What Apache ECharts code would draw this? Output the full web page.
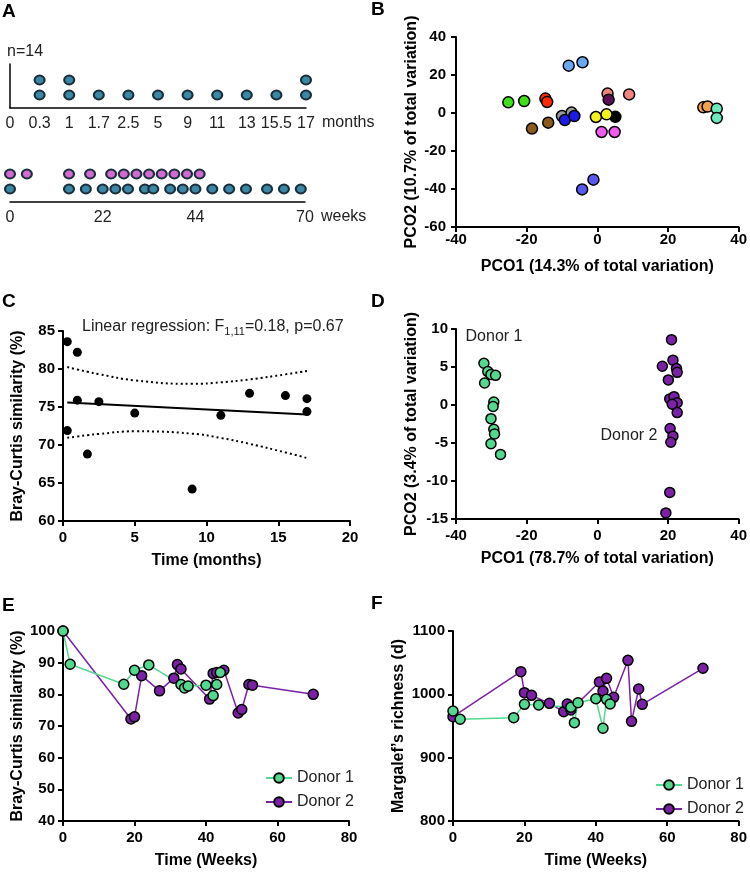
<!DOCTYPE html>
<html>
<head>
<meta charset="utf-8">
<script src="https://cdn.jsdelivr.net/npm/echarts@6/dist/echarts.min.js"></script>
<style>html,body{margin:0;padding:0;background:#fff}#main{width:750px;height:872px}</style>
</head>
<body>
<div id="main"></div>
<script>
// ---- A: sampling timelines ----
var monthLabels = ['0', '0.3', '1', '1.7', '2.5', '5', '9', '11', '13', '15.5', '17'];
var monthSamples = [0, 2, 2, 1, 1, 1, 1, 1, 1, 1, 2];
var weekTicks = [0, 22, 44, 70];
var weeksRow1 = [0, 14, 18, 22, 25, 28, 32, 34, 38, 41, 44, 48, 52, 56, 61, 65, 69];
var weeksRow2 = [0, 4, 14, 19, 24, 27, 30, 33, 36, 39, 42, 45];

// ---- B: PCO of all subjects ----
var bPCO1 = [-25.2, -20.7, -14.7, -14.2, -18.5, -13.9, -8.1, -4.2, -10.0, -7.3, -9.2, -6.5, 2.9, 9.0, 3.2, 5.1, -0.4, 2.6, 1.2, 4.9, 30.0, 31.2, 33.8, 33.8, -4.3, -1.1];
var bPCO2 = [5.6, 6.3, 7.6, 5.8, -8.2, -5.1, 24.9, 26.7, -1.6, 0.2, -3.7, -1.6, 10.2, 9.8, 7.0, -2.0, -2.1, -0.7, -10, -10, 3.0, 3.4, 2.3, -2.6, -40.2, -35.1];
var bSubject = [0, 0, 1, 1, 2, 2, 3, 3, 4, 4, 5, 5, 6, 6, 7, 8, 9, 9, 10, 10, 11, 11, 12, 12, 13, 13];

// ---- C: similarity over time ----
var cMonths = [0.3, 0.3, 1, 1, 1.7, 2.5, 5, 9, 11, 13, 15.5, 17, 17];
var cSim = [83.6, 71.9, 82.2, 75.9, 68.8, 75.7, 74.2, 64.2, 73.9, 76.8, 76.5, 76.1, 74.4];

// ---- D: PCO of donors ----
var d1PCO1 = [-32.1, -31.0, -30.1, -28.8, -31.9, -29.3, -29.5, -30.1, -29.3, -29.1, -30.1, -27.4];
var d1PCO2 = [5.5, 4.4, 4.0, 3.9, 2.9, 0.4, -0.2, -1.8, -3.2, -3.8, -5.1, -6.5];
var d2PCO1 = [21.0, 21.4, 18.4, 22.4, 22.6, 20.1, 20.5, 21.7, 22.6, 21.2, 22.6, 20.6, 21.4, 20.8, 20.5, 19.4];
var d2PCO2 = [8.6, 5.9, 5.1, 4.8, 4.3, 3.3, 0.8, 1.1, 0.3, 0.1, -1.0, -3.1, -4.1, -4.9, -11.5, -14.2];

// ---- E/F: donors over weeks ----
var donor1Weeks = [0, 2, 17, 20, 24, 33, 34, 35, 40, 42, 43, 44];
var donor1BC = [100, 89.5, 83.2, 87.6, 89.3, 83.1, 82.0, 82.6, 82.9, 79.6, 83.1, 86.9];
var donor1Rich = [973.7, 960.6, 963.2, 984.2, 983.2, 979.5, 955.3, 986.8, 993.1, 946.4, 992.1, 984.7];
var donor2Weeks = [0, 19, 20, 22, 27, 31, 32, 33, 41, 42, 43, 45, 49, 50, 52, 53, 70];
var donor2BC = [100, 72.2, 72.9, 85.9, 81.1, 85.1, 89.4, 88.0, 78.5, 86.6, 86.9, 87.6, 74.1, 75.2, 83.1, 82.9, 80.0];
var donor2Rich = [964.7, 1035.8, 1002.6, 998.4, 985.8, 972.6, 984.7, 975.3, 1019.5, 1005.3, 1025.3, 995.3, 1053.7, 957.4, 1008.4, 984.2, 1041.1];

var FONT = 'Liberation Sans, Arial, Helvetica, sans-serif';
var GREEN = '#52d98f', PURPLE = '#7a21a6';
var subjectColors = ['#3ee01a', '#ff2a00', '#8b5a1e', '#6aa8f2', '#9a9a9a', '#1c1ce8', '#f08282', '#5b0f55', '#000000', '#f2f21e', '#f25af2', '#f2a050', '#6aeabc', '#5858ee'];

function zip(a, b) {
	var out = [];
	for (var i = 0; i < a.length; i++) out.push([a[i], b[i]]);
	return out;
}

function axis(grid, min, max, step, name, gap, margin) {
	return {
		type: 'value', gridIndex: grid, min: min, max: max, interval: step,
		name: name, nameLocation: 'middle', nameGap: gap,
		nameTextStyle: {fontFamily: FONT, fontWeight: 'bold', fontSize: 16, color: '#000'},
		axisLine: {show: true, onZero: false, lineStyle: {color: '#000', width: 2}},
		axisTick: {show: true, length: 5, lineStyle: {color: '#000', width: 2}},
		axisLabel: {fontFamily: FONT, fontWeight: 'bold', fontSize: 15, color: '#000', margin: margin,
			formatter: function (v) { return String(v); }},
		splitLine: {show: false}
	};
}

// month dots, stacked by sample count
var monthDots = [];
for (var i = 0; i < monthSamples.length; i++) {
	for (var k = 1; k <= monthSamples[i]; k++) monthDots.push([i, k]);
}

// linear regression with 95% confidence band for C
var n = cMonths.length, mx = 0, my = 0;
for (var i = 0; i < n; i++) { mx += cMonths[i]; my += cSim[i]; }
mx /= n; my /= n;
var sxx = 0, sxy = 0;
for (var i = 0; i < n; i++) { sxx += (cMonths[i] - mx) * (cMonths[i] - mx); sxy += (cMonths[i] - mx) * (cSim[i] - my); }
var slope = sxy / sxx, icpt = my - slope * mx;
var sse = 0;
for (var i = 0; i < n; i++) { var r = cSim[i] - (icpt + slope * cMonths[i]); sse += r * r; }
var se = Math.sqrt(sse / (n - 2)), tcrit = 2.201;
var xs = cMonths.filter(function (v, i, a) { return a.indexOf(v) === i; });
var fitLine = [], upper = [], lower = [];
xs.forEach(function (x) {
	var yhat = icpt + slope * x;
	var hw = tcrit * se * Math.sqrt(1 / n + (x - mx) * (x - mx) / sxx);
	upper.push([x, yhat + hw]);
	lower.push([x, yhat - hw]);
});
fitLine.push([xs[0], icpt + slope * xs[0]], [xs[xs.length - 1], icpt + slope * xs[xs.length - 1]]);

function circle(color, size) {
	return {symbol: 'circle', symbolSize: size, itemStyle: {color: color, borderColor: '#000', borderWidth: 1.5, opacity: 1}};
}

function donorLine(name, color, grid, x, y) {
	return {
		type: 'line', name: name, xAxisIndex: grid, yAxisIndex: grid,
		data: zip(x, y), symbol: 'circle', symbolSize: 10,
		itemStyle: {color: color, borderColor: '#000', borderWidth: 1.5},
		lineStyle: {color: color, width: 1.5}
	};
}

function letter(t, x, y) {
	return {type: 'text', x: x, y: y, style: {text: t, font: 'bold 19px ' + FONT, fill: '#000', verticalAlign: 'middle'}};
}
function label(t, x, y, align) {
	return {type: 'text', x: x, y: y, style: {text: t, font: '16px ' + FONT, fill: '#222', align: align || 'left', verticalAlign: 'middle'}};
}

var chart = echarts.init(document.getElementById('main'));

option = {
	animation: false,
	backgroundColor: '#fff',
	grid: [
		{left: 10, top: 64, width: 296, height: 44},
		{left: 10, top: 158, width: 295, height: 44},
		{left: 456, top: 37, width: 285, height: 190},
		{left: 63, top: 331, width: 287, height: 190},
		{left: 456, top: 329, width: 285, height: 190},
		{left: 63, top: 631, width: 286, height: 190},
		{left: 453, top: 631, width: 286, height: 190}
	],
	xAxis: [
		{
			type: 'category', gridIndex: 0, data: monthLabels, boundaryGap: false,
			axisLine: {onZero: false, lineStyle: {color: '#000', width: 1.5}},
			axisTick: {show: false},
			axisLabel: {interval: 0, fontFamily: FONT, fontSize: 16, color: '#222', margin: 8}
		},
		{
			type: 'value', gridIndex: 1, min: 0, max: 70, interval: 2,
			axisLine: {onZero: false, lineStyle: {color: '#000', width: 1.5}},
			axisTick: {show: false}, splitLine: {show: false},
			axisLabel: {fontFamily: FONT, fontSize: 16, color: '#222', margin: 8,
				formatter: function (v) { return weekTicks.indexOf(v) >= 0 ? String(v) : ''; }}
		},
		axis(2, -40, 40, 20, 'PCO1 (14.3% of total variation)', 32, 5),
		axis(3, 0, 20, 5, 'Time (months)', 32, 9),
		axis(4, -40, 40, 20, 'PCO1 (78.7% of total variation)', 32, 9),
		axis(5, 0, 80, 20, 'Time (Weeks)', 32, 9),
		axis(6, 0, 80, 20, 'Time (Weeks)', 32, 9)
	],
	yAxis: [
		{type: 'value', gridIndex: 0, min: 0.13, max: 3.07, axisLine: {show: true, onZero: false, lineStyle: {color: '#000', width: 1.5}},
			axisTick: {show: false}, axisLabel: {show: false}, splitLine: {show: false}},
		{type: 'value', gridIndex: 1, min: 0.13, max: 3.07, show: false},
		axis(2, -60, 40, 20, 'PCO2 (10.7% of total variation)', 36, 10),
		axis(3, 60, 85, 5, 'Bray-Curtis similarity (%)', 37, 8),
		axis(4, -15, 10, 5, 'PCO2 (3.4% of total variation)', 36, 8),
		axis(5, 40, 100, 10, 'Bray-Curtis similarity (%)', 37, 8),
		axis(6, 800, 1100, 100, 'Margalef\u2019s richness (d)', 46, 8)
	],
	legend: [
		{left: 260, top: 765, orient: 'vertical', itemWidth: 26, itemHeight: 12, itemGap: 8, selectedMode: false,
			data: ['Donor 1', 'Donor 2'], textStyle: {fontFamily: FONT, fontSize: 16, color: '#222'}},
		{left: 650, top: 772, orient: 'vertical', itemWidth: 26, itemHeight: 12, itemGap: 8, selectedMode: false,
			data: ['Donor 1', 'Donor 2'], textStyle: {fontFamily: FONT, fontSize: 16, color: '#222'}}
	],
	series: [
		{type: 'scatter', xAxisIndex: 0, yAxisIndex: 0, data: monthDots, symbol: 'circle', symbolSize: [10, 9],
			itemStyle: {color: '#3b87a6', borderColor: '#1b2f3a', borderWidth: 2, opacity: 1}},
		{type: 'scatter', xAxisIndex: 1, yAxisIndex: 1, data: weeksRow1.map(function (w) { return [w, 1]; }), symbol: 'circle', symbolSize: [10, 9],
			itemStyle: {color: '#3b87a6', borderColor: '#1b2f3a', borderWidth: 2, opacity: 1}},
		{type: 'scatter', xAxisIndex: 1, yAxisIndex: 1, data: weeksRow2.map(function (w) { return [w, 2]; }), symbol: 'circle', symbolSize: [10, 9],
			itemStyle: {color: '#d36ad3', borderColor: '#1b2f3a', borderWidth: 2, opacity: 1}},
		{type: 'scatter', xAxisIndex: 2, yAxisIndex: 2, symbol: 'circle', symbolSize: 11,
			data: bPCO1.map(function (x, i) {
				return {value: [x, bPCO2[i]], itemStyle: {color: subjectColors[bSubject[i]], borderColor: '#000', borderWidth: 1.5, opacity: 1}};
			})},
		{type: 'line', xAxisIndex: 3, yAxisIndex: 3, data: upper, smooth: true, symbol: 'none',
			lineStyle: {color: '#000', width: 2, type: [2, 3]}},
		{type: 'line', xAxisIndex: 3, yAxisIndex: 3, data: lower, smooth: true, symbol: 'none',
			lineStyle: {color: '#000', width: 2, type: [2, 3]}},
		{type: 'line', xAxisIndex: 3, yAxisIndex: 3, data: fitLine, symbol: 'none',
			lineStyle: {color: '#000', width: 2}},
		{type: 'scatter', xAxisIndex: 3, yAxisIndex: 3, data: zip(cMonths, cSim), symbol: 'circle', symbolSize: 9,
			itemStyle: {color: '#000', opacity: 1}},
		Object.assign({type: 'scatter', name: 'D1', xAxisIndex: 4, yAxisIndex: 4, data: zip(d1PCO1, d1PCO2)}, circle(GREEN, 10)),
		Object.assign({type: 'scatter', name: 'D2', xAxisIndex: 4, yAxisIndex: 4, data: zip(d2PCO1, d2PCO2)}, circle(PURPLE, 10)),
		donorLine('Donor 2', PURPLE, 5, donor2Weeks, donor2BC),
		donorLine('Donor 1', GREEN, 5, donor1Weeks, donor1BC),
		donorLine('Donor 2', PURPLE, 6, donor2Weeks, donor2Rich),
		donorLine('Donor 1', GREEN, 6, donor1Weeks, donor1Rich)
	],
	graphic: [
		letter('A', 2, 12), letter('B', 371, 10), letter('C', 2, 302),
		letter('D', 371, 302), letter('E', 2, 606), letter('F', 371, 604),
		label('n=14', 7, 52),
		label('months', 322, 123),
		label('weeks', 321, 217),
		label('Donor 1', 494, 337, 'center'),
		label('Donor 2', 629, 436, 'center'),
		{type: 'text', x: 82, y: 327, style: {
			text: 'Linear regression: F{sub|1,11}=0.18, p=0.67',
			font: '16px ' + FONT, fill: '#222', verticalAlign: 'middle',
			rich: {sub: {fontSize: 11, fontFamily: FONT, fill: '#222', padding: [9, 0, 0, 0]}}
		}}
	]
};
chart.setOption(option);
</script>
</body>
</html>
